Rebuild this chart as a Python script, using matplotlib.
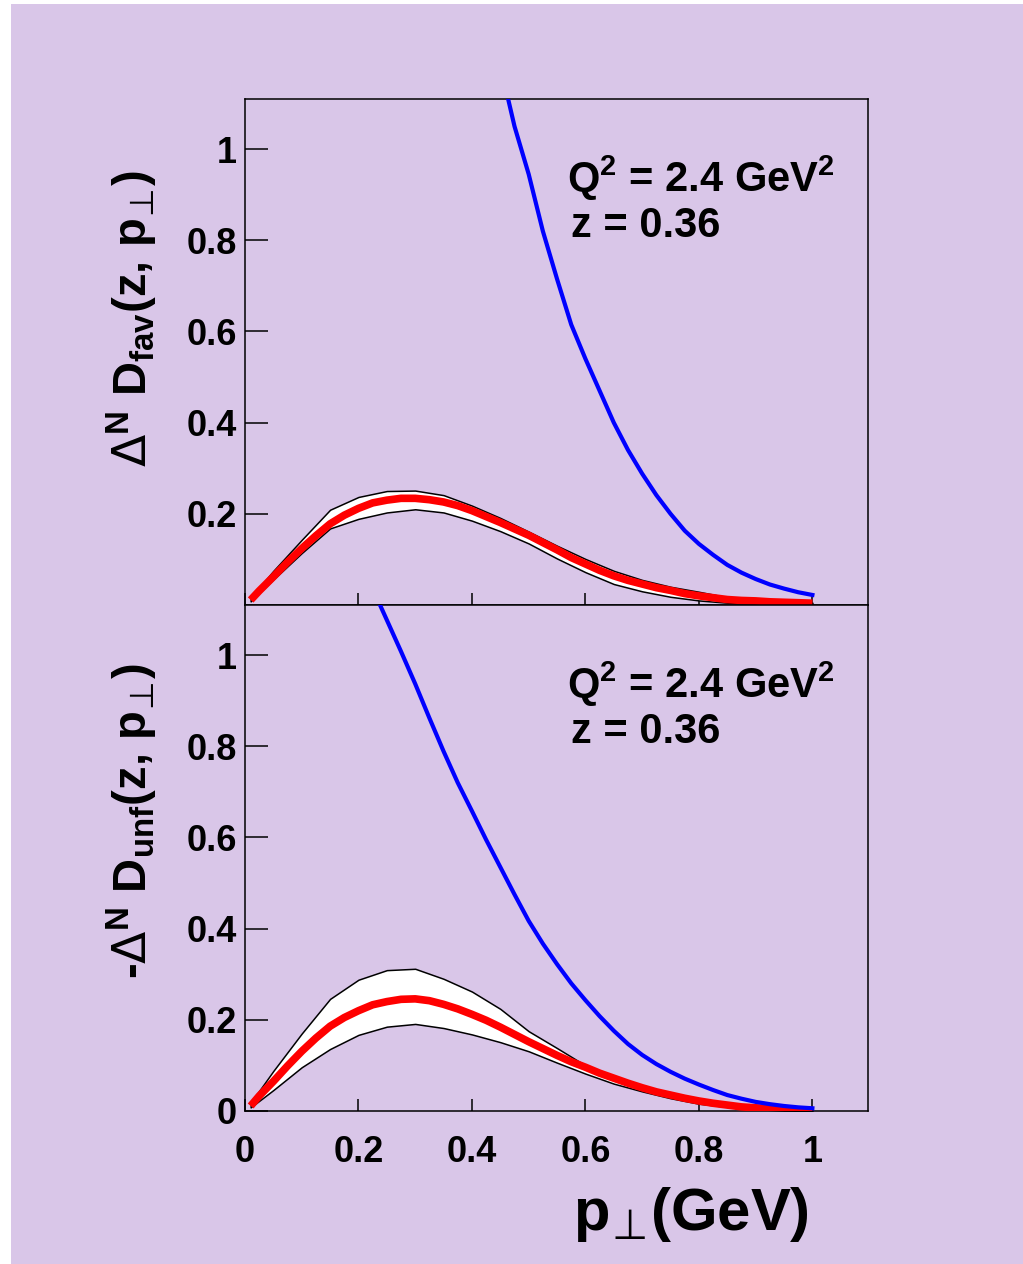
import numpy as np
import matplotlib
matplotlib.use("Agg")
import matplotlib.pyplot as plt
from matplotlib.patches import Rectangle
from matplotlib.ticker import FormatStrFormatter

plt.rcParams['font.family'] = ['Liberation Sans', 'DejaVu Sans']
plt.rcParams['font.weight'] = 'bold'
plt.rcParams['mathtext.fontset'] = 'custom'
plt.rcParams['mathtext.rm'] = 'Liberation Sans:bold'
plt.rcParams['mathtext.it'] = 'Liberation Sans:bold'
plt.rcParams['mathtext.bf'] = 'Liberation Sans:bold'
# regular DejaVu for the thin Delta and the up-tack (perp) sign
plt.rcParams['mathtext.sf'] = 'DejaVu Sans:weight=normal'

LAVENDER = '#d9c6e8'

# p_perp grid for the central fits
pt_fit = [0.01, 0.025, 0.05, 0.075, 0.10, 0.125, 0.15, 0.175, 0.20, 0.225, 0.25, 0.275,
          0.30, 0.325, 0.35, 0.375, 0.40, 0.425, 0.45, 0.475, 0.50, 0.525, 0.55, 0.575,
          0.60, 0.625, 0.65, 0.675, 0.70, 0.725, 0.75, 0.775, 0.80, 0.825, 0.85, 0.875,
          0.90, 0.925, 0.95, 0.975, 1.00]
# coarser grid of the error bands
pt_band = [0.01, 0.05, 0.10, 0.15, 0.20, 0.25, 0.30, 0.35, 0.40, 0.45, 0.50,
           0.55, 0.60, 0.65, 0.70, 0.75, 0.80, 0.85, 0.90, 0.95, 1.00]

# favoured (top panel)
fav_fit = [0.011, 0.031, 0.062, 0.094, 0.124, 0.152, 0.178, 0.197, 0.212, 0.224, 0.230,
           0.234, 0.234, 0.231, 0.226, 0.218, 0.207, 0.194, 0.181, 0.167, 0.153, 0.137,
           0.121, 0.104, 0.090, 0.076, 0.064, 0.054, 0.046, 0.038, 0.032, 0.025, 0.020,
           0.016, 0.012, 0.010, 0.009, 0.007, 0.006, 0.005, 0.004]
fav_hi = [0.016, 0.075, 0.143, 0.209, 0.237, 0.250, 0.251, 0.241, 0.218, 0.191, 0.161,
          0.130, 0.101, 0.075, 0.055, 0.040, 0.029, 0.017, 0.011, 0.006, 0.005]
fav_lo = [0.008, 0.056, 0.114, 0.168, 0.189, 0.203, 0.210, 0.203, 0.185, 0.162, 0.135,
          0.102, 0.072, 0.046, 0.030, 0.018, 0.010, 0.005, 0.003, 0.001, 0.000]
fav_pos_x = [0.46, 0.475, 0.50, 0.525, 0.55, 0.575, 0.60, 0.625, 0.65, 0.675, 0.70,
             0.725, 0.75, 0.775, 0.80, 0.825, 0.85, 0.875, 0.90, 0.925, 0.95, 0.975, 1.00]
fav_pos = [1.13, 1.05, 0.945, 0.82, 0.715, 0.615, 0.54, 0.47, 0.40, 0.34, 0.288,
           0.241, 0.200, 0.163, 0.134, 0.110, 0.088, 0.071, 0.057, 0.045, 0.036, 0.028, 0.022]

# unfavoured (bottom panel)
unf_fit = [0.011, 0.033, 0.065, 0.099, 0.131, 0.160, 0.186, 0.205, 0.220, 0.233, 0.240,
           0.245, 0.246, 0.242, 0.234, 0.224, 0.212, 0.199, 0.184, 0.168, 0.152, 0.137,
           0.122, 0.108, 0.096, 0.083, 0.072, 0.061, 0.051, 0.042, 0.035, 0.028, 0.022,
           0.017, 0.013, 0.009, 0.007, 0.005, 0.003, 0.002, 0.001]
unf_hi = [0.018, 0.088, 0.170, 0.246, 0.288, 0.309, 0.312, 0.290, 0.262, 0.224, 0.175,
          0.138, 0.100, 0.073, 0.053, 0.038, 0.024, 0.014, 0.008, 0.004, 0.0015]
unf_lo = [0.008, 0.046, 0.096, 0.136, 0.167, 0.185, 0.191, 0.182, 0.168, 0.151, 0.131,
          0.106, 0.082, 0.060, 0.043, 0.028, 0.016, 0.009, 0.004, 0.001, 0.000]
unf_pos_x = [0.23, 0.25, 0.275, 0.30, 0.325, 0.35, 0.375, 0.40, 0.425, 0.45, 0.475, 0.50,
             0.525, 0.55, 0.575, 0.60, 0.625, 0.65, 0.675, 0.70, 0.725, 0.75, 0.775, 0.80,
             0.825, 0.85, 0.875, 0.90, 0.925, 0.95, 0.975, 1.00]
unf_pos = [1.132, 1.077, 1.008, 0.937, 0.862, 0.789, 0.72, 0.658, 0.595, 0.535, 0.475, 0.417,
           0.367, 0.322, 0.280, 0.243, 0.208, 0.176, 0.147, 0.123, 0.103, 0.086, 0.071, 0.058,
           0.046, 0.035, 0.027, 0.020, 0.015, 0.011, 0.008, 0.006]

fig = plt.figure(figsize=(10.23, 12.64), dpi=100)
fig.patch.set_facecolor('white')
fig.patches.append(Rectangle((11 / 1023, 0), 1, 1 - 4 / 1264, transform=fig.transFigure,
                             facecolor=LAVENDER, edgecolor='none', zorder=-10))

left, width = 245 / 1023, 623 / 1023
ax_top = fig.add_axes([left, 1 - 605 / 1264, width, 506 / 1264])
ax_bot = fig.add_axes([left, 1 - 1111 / 1264, width, 506 / 1264])


def draw_panel(ax, fit, lo, hi, pos_x, pos):
    ax.set_facecolor(LAVENDER)
    ax.fill_between(pt_band, lo, hi, facecolor='white', edgecolor='black', linewidth=1.1, zorder=2)
    ax.plot(pt_fit, fit, color='red', linewidth=5.5, solid_capstyle='butt', zorder=3)
    ax.plot(pos_x, pos, color='blue', linewidth=3.0, zorder=4)
    ax.set_xlim(0, 1.098)
    ax.set_ylim(0, 1.11)
    ax.set_xticks([0, 0.2, 0.4, 0.6, 0.8, 1.0])
    ax.xaxis.set_major_formatter(FormatStrFormatter('%g'))
    ax.yaxis.set_major_formatter(FormatStrFormatter('%g'))
    ax.tick_params(axis='y', direction='in', length=16.5, width=1.1, pad=6, labelsize=26)
    ax.tick_params(axis='x', direction='in', length=8.6, width=1.1, pad=17, labelsize=26)
    for s in ax.spines.values():
        s.set_linewidth(1.1)
    ax.text(0.517, 0.816, r'Q$^{2}$ = 2.4 GeV$^{2}$', transform=ax.transAxes,
            fontsize=30, va='baseline', ha='left')
    ax.text(0.524, 0.727, 'z = 0.36', transform=ax.transAxes,
            fontsize=30, va='baseline', ha='left')


draw_panel(ax_top, fav_fit, fav_lo, fav_hi, fav_pos_x, fav_pos)
draw_panel(ax_bot, unf_fit, unf_lo, unf_hi, unf_pos_x, unf_pos)

ax_top.set_yticks([0.2, 0.4, 0.6, 0.8, 1.0])
ax_top.tick_params(axis='x', labelbottom=False)
ax_bot.set_yticks([0, 0.2, 0.4, 0.6, 0.8, 1.0])

perp = r'$_{\!\mathsf{\bot}\!}$'
fig.text(0.129, 0.748, r'$\mathsf{\Delta}^{N}$ D$_{fav}$(z, p' + perp + ')', rotation=90,
         ha='center', va='center', fontsize=34)
fig.text(0.129, 0.3505, r'-$\mathsf{\Delta}^{N}$ D$_{unf}$(z, p' + perp + ')', rotation=90,
         ha='center', va='center', fontsize=34)
fig.text(0.675, 0.0388, 'p' + perp + '(GeV)', ha='center', va='center', fontsize=43)

fig.savefig('out.png', dpi=100)
